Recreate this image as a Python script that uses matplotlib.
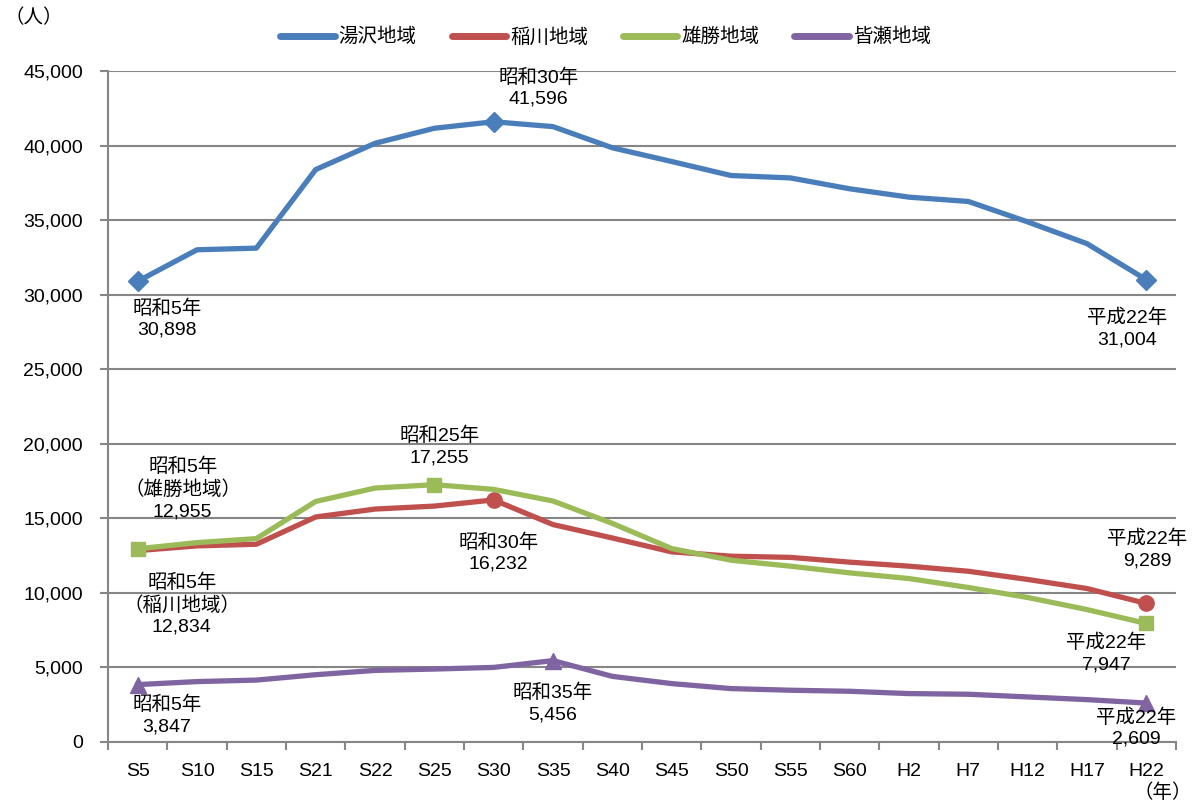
import matplotlib
matplotlib.use("Agg")
import matplotlib.pyplot as plt
import numpy as np

plt.rcParams['font.family'] = ['Liberation Sans', 'Noto Sans CJK JP']

years = ['S5', 'S10', 'S15', 'S21', 'S22', 'S25', 'S30', 'S35', 'S40', 'S45',
         'S50', 'S55', 'S60', 'H2', 'H7', 'H12', 'H17', 'H22']

yuzawa = [30898, 33010, 33120, 38390, 40150, 41160, 41596, 41270, 39850, 38930,
          37990, 37830, 37100, 36540, 36250, 34880, 33420, 31004]
inakawa = [12834, 13150, 13260, 15090, 15620, 15820, 16232, 14580, 13680, 12750,
           12460, 12380, 12060, 11790, 11450, 10900, 10290, 9289]
ogachi = [12955, 13370, 13640, 16130, 17030, 17255, 16940, 16160, 14660, 12970,
          12190, 11790, 11340, 10960, 10360, 9690, 8880, 7947]
minase = [3847, 4050, 4150, 4510, 4800, 4890, 5000, 5456, 4400, 3915,
          3580, 3470, 3400, 3245, 3200, 3020, 2840, 2609]

names = ['湯沢地域', '稲川地域', '雄勝地域', '皆瀬地域']
colors = ['#4A7EBB', '#C0504D', '#9BBB59', '#8064A2']
fs = 14

fig = plt.figure(figsize=(11.99, 8.05), dpi=100)
ax = fig.add_axes([0.0901, 0.0783, 0.8907, 0.8335])

x = np.arange(len(years))
ax.plot(x, yuzawa, color=colors[0], lw=3.8, marker='D', ms=10, markevery=[0, 6, 17],
        label=names[0], zorder=3)
ax.plot(x, inakawa, color=colors[1], lw=3.8, marker='o', ms=11, markevery=[6, 17],
        label=names[1], zorder=3)
ax.plot(x, ogachi, color=colors[2], lw=3.8, marker='s', ms=10, markevery=[0, 5, 17],
        label=names[2], zorder=3)
ax.plot(x, minase, color=colors[3], lw=3.8, marker='^', ms=11, markevery=[0, 7, 17],
        label=names[3], zorder=3)

ax.set_xlim(-0.5, len(years) - 0.5)
ax.set_ylim(0, 45000)
ax.set_yticks(np.arange(0, 45001, 5000))
ax.set_yticklabels(['{:,}'.format(v) for v in range(0, 45001, 5000)], fontsize=fs)
ax.set_xticks(x)
ax.set_xticklabels(years, fontsize=fs)
ax.set_xticks(np.arange(-0.5, len(years), 1), minor=True)
ax.tick_params(axis='x', which='major', length=0, pad=15)
ax.tick_params(axis='x', which='minor', length=6, width=1.5, color='#868686')
ax.tick_params(axis='y', length=6, width=1.5, color='#868686', pad=12)
ax.grid(axis='y', color='#868686', lw=1.5, zorder=0)
for s in ['top', 'right']:
    ax.spines[s].set_visible(False)
for s in ['left', 'bottom']:
    ax.spines[s].set_color('#868686')
    ax.spines[s].set_linewidth(1.5)

leg = fig.legend(loc='center', bbox_to_anchor=(0.505, 0.954), ncol=4, frameon=False,
                 fontsize=fs, handlelength=2.8, handletextpad=0.2, columnspacing=1.8)
for h in leg.get_lines():
    h.set_marker('')
    h.set_linewidth(5)
    h.set_solid_capstyle('round')

# annotations: (series, index, text, offset in pixels)
notes = [
    (yuzawa, 0, '昭和5年\n30,898', (29, -38)),
    (yuzawa, 6, '昭和30年\n41,596', (45, 34)),
    (yuzawa, 17, '平成22年\n31,004', (-19, -49)),
    (ogachi, 0, '昭和5年\n（雄勝地域）\n12,955', (45, 60)),
    (inakawa, 0, '昭和5年\n（稲川地域）\n12,834', (44, -54)),
    (ogachi, 5, '昭和25年\n17,255', (5, 38)),
    (inakawa, 6, '昭和30年\n16,232', (5, -53)),
    (minase, 0, '昭和5年\n3,847', (29, -31)),
    (minase, 7, '昭和35年\n5,456', (0, -43)),
    (inakawa, 17, '平成22年\n9,289', (1, 54)),
    (ogachi, 17, '平成22年\n7,947', (-40, -30)),
    (minase, 17, '平成22年\n2,609', (-10, -25)),
]
for series, i, txt, off in notes:
    ax.annotate(txt, xy=(i, series[i]), xytext=off, textcoords='offset pixels',
                ha='center', va='center', fontsize=fs, linespacing=1.3,
                annotation_clip=False, zorder=4)

fig.text(0.004, 0.978, '（人）', fontsize=fs, ha='left', va='center')
fig.text(0.994, 0.015, '（年）', fontsize=fs, ha='right', va='center')

fig.savefig('out.png', dpi=100)
